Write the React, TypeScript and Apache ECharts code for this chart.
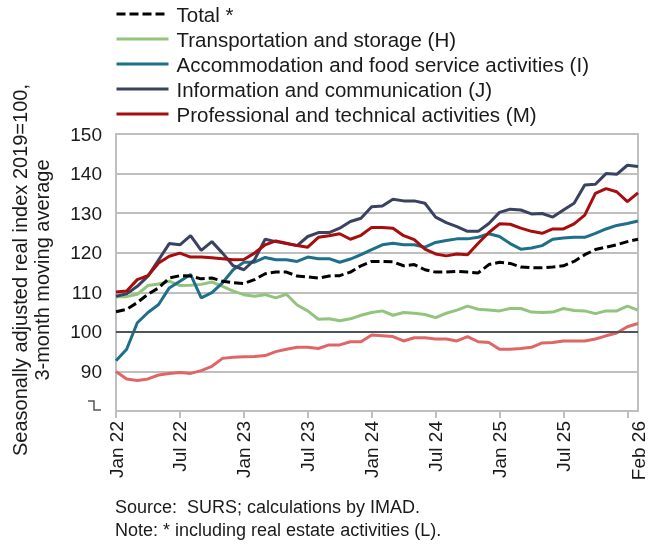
import React, { useEffect, useRef } from "react";
import * as echarts from "echarts";

const MONTHS = ["Jan", "Feb", "Mar", "Apr", "May", "Jun", "Jul", "Aug", "Sep", "Oct", "Nov", "Dec"];
const categories: string[] = [];
for (let y = 22; y <= 26; y++) {
  for (let m = 0; m < 12; m++) {
    if (y === 26 && m > 1) break;
    categories.push(`${MONTHS[m]} ${y}`);
  }
}

const total = [105.1, 105.7, 107.4, 109.5, 111.1, 113.6, 114.2, 114.1, 113.4, 113.6, 112.8, 112.4, 112.2, 113.2, 114.7, 115.1, 115.1, 114.1, 113.9, 113.6, 114.1, 114.2, 115.1, 116.7, 117.8, 117.8, 117.7, 116.7, 117.0, 115.7, 115.1, 115.1, 115.3, 115.1, 114.9, 117.0, 117.6, 117.3, 116.4, 116.2, 116.2, 116.4, 116.7, 117.8, 119.5, 120.8, 121.4, 122.0, 122.8, 123.4];
const transport = [108.9, 108.9, 109.5, 111.7, 112.1, 112.8, 111.7, 111.8, 112.0, 112.6, 111.5, 110.3, 109.4, 109.0, 109.4, 108.6, 109.5, 106.8, 105.3, 103.2, 103.3, 102.8, 103.3, 104.2, 104.9, 105.3, 104.2, 104.9, 104.7, 104.4, 103.6, 104.7, 105.5, 106.5, 105.7, 105.5, 105.3, 105.9, 105.9, 105.0, 104.9, 105.0, 105.9, 105.4, 105.3, 104.6, 105.3, 105.3, 106.5, 105.5];
const accommodation = [92.7, 95.6, 102.3, 104.9, 106.9, 111.1, 112.8, 114.5, 108.6, 109.9, 112.4, 115.7, 117.6, 117.6, 118.8, 118.2, 118.2, 117.8, 118.9, 118.5, 118.5, 117.6, 118.4, 119.5, 120.8, 122.0, 122.4, 122.0, 122.0, 121.4, 122.6, 123.1, 123.5, 123.5, 123.9, 124.8, 124.1, 122.3, 120.9, 121.2, 121.8, 123.4, 123.7, 123.9, 123.9, 124.9, 126.0, 126.9, 127.4, 128.0];
const information = [109.0, 109.6, 111.5, 114.1, 118.2, 122.3, 122.0, 124.3, 120.6, 122.8, 119.9, 116.7, 115.7, 118.2, 123.4, 122.8, 122.3, 121.8, 124.1, 125.1, 125.1, 126.2, 127.9, 128.7, 131.6, 131.8, 133.5, 133.1, 133.1, 132.5, 129.0, 127.6, 126.6, 125.4, 125.4, 127.4, 130.2, 131.0, 130.8, 129.8, 129.9, 129.0, 130.8, 132.5, 137.1, 137.3, 140.0, 139.8, 142.1, 141.8];
const professional = [110.1, 110.3, 113.2, 114.2, 117.4, 119.1, 119.9, 118.9, 118.9, 118.7, 118.5, 118.2, 118.3, 119.9, 122.0, 123.0, 122.4, 121.8, 121.4, 123.9, 124.3, 124.8, 123.4, 124.4, 126.4, 126.4, 126.2, 124.3, 123.3, 120.9, 119.7, 119.2, 119.7, 119.5, 122.4, 125.1, 127.3, 127.2, 126.2, 125.4, 124.9, 126.0, 126.0, 127.3, 129.5, 135.0, 136.2, 135.4, 132.9, 135.1];
const other = [90.0, 88.1, 87.7, 88.1, 89.1, 89.5, 89.7, 89.5, 90.2, 91.3, 93.3, 93.6, 93.7, 93.8, 94.0, 95.0, 95.6, 96.1, 96.1, 95.8, 96.7, 96.7, 97.5, 97.5, 99.2, 99.0, 98.8, 97.7, 98.5, 98.5, 98.2, 98.2, 97.7, 98.8, 97.5, 97.3, 95.6, 95.6, 95.8, 96.1, 97.2, 97.3, 97.7, 97.7, 97.7, 98.2, 99.0, 99.7, 101.3, 102.1];

const legendNames = [
  "Total *",
  "Transportation and storage (H)",
  "Accommodation and food service activities (I)",
  "Information and communication (J)",
  "Professional and technical activities (M)",
];
const yTitle = "Seasonally adjusted real index 2019=100,\n3-month moving average";
const sourceText = "Source:  SURS; calculations by IMAD.";
const noteText = "Note: * including real estate activities (L).";

const FONT = "'Liberation Sans', Arial, sans-serif";
const GRID = "#bfbfbf";
const TEXT = "#1a1a1a";

export default function App() {
  const ref = useRef<HTMLDivElement>(null);
  useEffect(() => {
    if (!ref.current) return;
    const chart = echarts.init(ref.current, null, { renderer: "svg" });
    const line = (name: string, data: number[], color: string, extra: any = {}) => ({
      name,
      type: "line",
      data,
      symbol: "none",
      showSymbol: false,
      lineStyle: { color, width: 3, ...(extra.lineStyle || {}) },
      itemStyle: { color },
    });
    chart.setOption({
      animation: false,
      textStyle: { fontFamily: FONT },
      grid: { left: 116, right: 13, top: 134, bottom: 134, show: true, borderColor: GRID, borderWidth: 2, containLabel: false },
      legend: {
        data: legendNames,
        orient: "vertical",
        left: 115,
        top: 3,
        padding: 0,
        itemWidth: 52,
        itemHeight: 14,
        itemGap: 3,
        lineStyle: { width: 3 },
        itemStyle: { color: "rgba(0,0,0,0)", borderColor: "rgba(0,0,0,0)", borderWidth: 0, opacity: 0 },
        textStyle: { fontSize: 20.5, color: TEXT, lineHeight: 22, fontFamily: FONT, padding: [0, 0, 0, 3] },
      },
      xAxis: {
        type: "category",
        data: categories,
        boundaryGap: false,
        axisLine: { lineStyle: { color: GRID, width: 2 } },
        axisTick: { show: true, interval: (i: number) => i % 6 === 0, length: 7, lineStyle: { color: GRID, width: 2 } },
        axisLabel: {
          interval: (i: number) => (i % 6 === 0 && i !== 48) || i === 49,
          rotate: 90,
          fontSize: 19,
          color: TEXT,
          margin: 10,
          fontFamily: FONT,
        },
        splitLine: { show: false },
      },
      yAxis: {
        type: "value",
        min: 80,
        max: 150,
        interval: 10,
        axisLine: { show: true, lineStyle: { color: GRID, width: 2 } },
        axisTick: { show: false },
        axisLabel: {
          fontSize: 19,
          color: TEXT,
          margin: 14,
          fontFamily: FONT,
          formatter: (v: number) => (v === 80 ? "" : String(v)),
        },
        splitLine: { lineStyle: { color: GRID, width: 2 } },
      },
      graphic: [
        {
          type: "text",
          x: 31,
          y: 270,
          rotation: Math.PI / 2,
          style: { text: yTitle, fontSize: 20, lineHeight: 22, fill: TEXT, textAlign: "center", textVerticalAlign: "middle", fontFamily: FONT },
        },
        {
          type: "polyline",
          shape: { points: [[88, 401], [94, 401], [94, 410], [101, 410]] },
          style: { stroke: "#555555", lineWidth: 1.5, fill: null },
        },
        {
          type: "text",
          x: 115,
          y: 507,
          style: { text: sourceText, fontSize: 18, fill: TEXT, textVerticalAlign: "middle", fontFamily: FONT },
        },
        {
          type: "text",
          x: 115,
          y: 530,
          style: { text: noteText, fontSize: 18, fill: TEXT, textVerticalAlign: "middle", fontFamily: FONT },
        },
      ],
      series: [
        {
          ...line("Other", other, "#e06666"),
          markLine: {
            silent: true,
            symbol: "none",
            label: { show: false },
            lineStyle: { color: "#4f535b", type: "solid", width: 2 },
            data: [{ yAxis: 100 }],
          },
        },
        line(legendNames[1], transport, "#93c47d"),
        line(legendNames[2], accommodation, "#1d6f8a"),
        line(legendNames[3], information, "#39425e"),
        line(legendNames[4], professional, "#a80c0c"),
        line(legendNames[0], total, "#000000", { lineStyle: { type: [9, 4] } }),
      ],
    });
    return () => chart.dispose();
  }, []);
  return <div ref={ref} style={{ position: "fixed", left: 0, top: 0, width: 651, height: 545 }} />;
}
